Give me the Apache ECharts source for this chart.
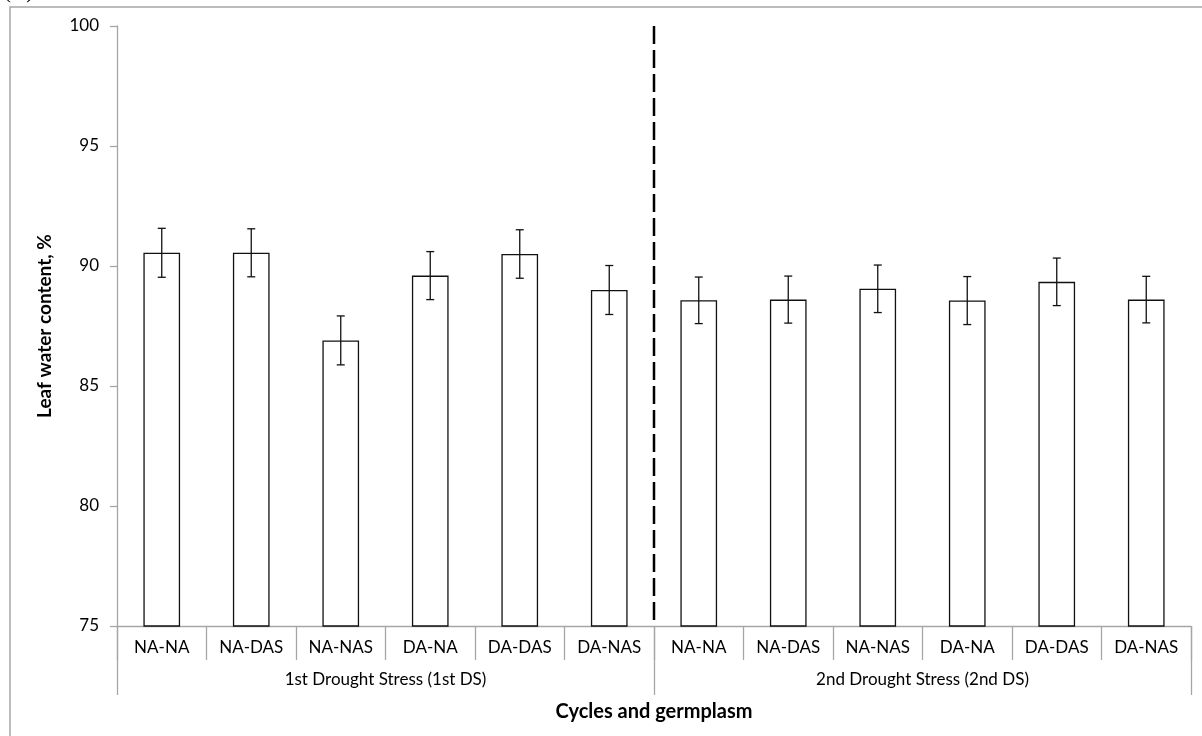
<!DOCTYPE html>
<html>
<head>
<meta charset="utf-8">
<style>
  html, body { margin: 0; padding: 0; background: #fff; }
  #chart { width: 1202px; height: 736px; }
</style>
<script src="https://cdn.jsdelivr.net/npm/echarts@6/dist/echarts.min.js"></script>
</head>
<body>
<div id="chart"></div>
<script>
// Germplasm treatments within each drought-stress cycle
const categories = ['NA-NA', 'NA-DAS', 'NA-NAS', 'DA-NA', 'DA-DAS', 'DA-NAS',
                    'NA-NA', 'NA-DAS', 'NA-NAS', 'DA-NA', 'DA-DAS', 'DA-NAS'];
const cycles = ['1st Drought Stress (1st DS)', '2nd Drought Stress (2nd DS)'];
// Mean leaf water content (%) and its error
const waterContent = [90.55, 90.55, 86.9, 89.6, 90.5, 89.0,
                      88.57, 88.6, 89.05, 88.56, 89.34, 88.6];
const errors = [1.02, 1.0, 1.02, 1.0, 1.01, 1.02,
                0.97, 0.98, 0.99, 1.0, 0.99, 0.97];
const yTicks = { min: 75, max: 100, interval: 5 };

const FONT = 'Lato, "Liberation Sans", sans-serif';
const GREY = '#a6a6a6';

const chart = echarts.init(document.getElementById('chart'));

chart.setOption({
  animation: false,
  backgroundColor: '#fff',
  textStyle: { fontFamily: FONT },
  graphic: [
    { type: 'rect', shape: { x: 10, y: 7, width: 1200, height: 740 },
      style: { fill: 'none', stroke: GREY, lineWidth: 1.5 }, silent: true },
    { type: 'text', left: 4, top: -18,
      style: { text: '(A)', font: '21px "Liberation Serif", serif', fill: '#000' } }
  ],
  grid: { left: 117, right: 11, top: 26, bottom: 110 },
  xAxis: [
    {
      type: 'category',
      data: categories,
      axisLine: { lineStyle: { color: GREY, width: 1.3 } },
      axisTick: { show: true, length: 34, lineStyle: { color: GREY, width: 1.3 } },
      axisLabel: { color: '#000', fontSize: 17, margin: 13, fontFamily: FONT, interval: 0 },
      splitLine: { show: false }
    },
    {
      type: 'category',
      data: cycles,
      position: 'bottom',
      axisLine: { show: false },
      axisTick: { show: true, length: 69, lineStyle: { color: GREY, width: 1.3 } },
      axisLabel: { color: '#000', fontSize: 17, margin: 45, fontFamily: FONT },
      name: 'Cycles and germplasm',
      nameLocation: 'middle',
      nameGap: 76,
      nameTextStyle: { color: '#000', fontSize: 20, fontWeight: 'bold', fontFamily: FONT },
      splitLine: { show: false }
    }
  ],
  yAxis: {
    type: 'value',
    min: yTicks.min,
    max: yTicks.max,
    interval: yTicks.interval,
    axisLine: { show: true, lineStyle: { color: GREY, width: 1.3 } },
    axisTick: { show: true, length: 7, lineStyle: { color: GREY, width: 1.3 } },
    axisLabel: { color: '#000', fontSize: 17, margin: 18, fontFamily: FONT },
    splitLine: { show: false },
    name: 'Leaf water content, %',
    nameLocation: 'middle',
    nameGap: 63,
    nameTextStyle: { color: '#000', fontSize: 19, fontWeight: 'bold', fontFamily: FONT }
  },
  series: [
    {
      type: 'bar',
      xAxisIndex: 0,
      data: waterContent,
      barWidth: '41%',
      itemStyle: { color: '#fff', borderColor: '#111', borderWidth: 1.3 },
      z: 2
    },
    {
      // error bars: stem plus caps
      type: 'custom',
      xAxisIndex: 0,
      data: waterContent.map((v, i) => [i, v, errors[i]]),
      renderItem: function (params, api) {
        const i = api.value(0), v = api.value(1), e = api.value(2);
        const top = api.coord([i, v + e]);
        const bot = api.coord([i, v - e]);
        const half = 4;
        const style = { stroke: '#111', lineWidth: 1.3 };
        return {
          type: 'group',
          children: [
            { type: 'line', shape: { x1: top[0], y1: top[1], x2: bot[0], y2: bot[1] }, style },
            { type: 'line', shape: { x1: top[0] - half, y1: top[1], x2: top[0] + half, y2: top[1] }, style },
            { type: 'line', shape: { x1: bot[0] - half, y1: bot[1], x2: bot[0] + half, y2: bot[1] }, style }
          ]
        };
      },
      z: 3
    },
    {
      // dashed divider between the two drought-stress cycles
      type: 'custom',
      xAxisIndex: 0,
      data: [[5]],
      renderItem: function (params, api) {
        const a = api.coord([5, yTicks.max]);
        const b = api.coord([6, yTicks.min]);
        const x = (a[0] + b[0]) / 2;
        return {
          type: 'line',
          shape: { x1: x, y1: a[1], x2: x, y2: b[1] },
          style: { stroke: '#000', lineWidth: 2.5, lineDash: [18, 6] }
        };
      },
      z: 4
    }
  ]
});
</script>
</body>
</html>
